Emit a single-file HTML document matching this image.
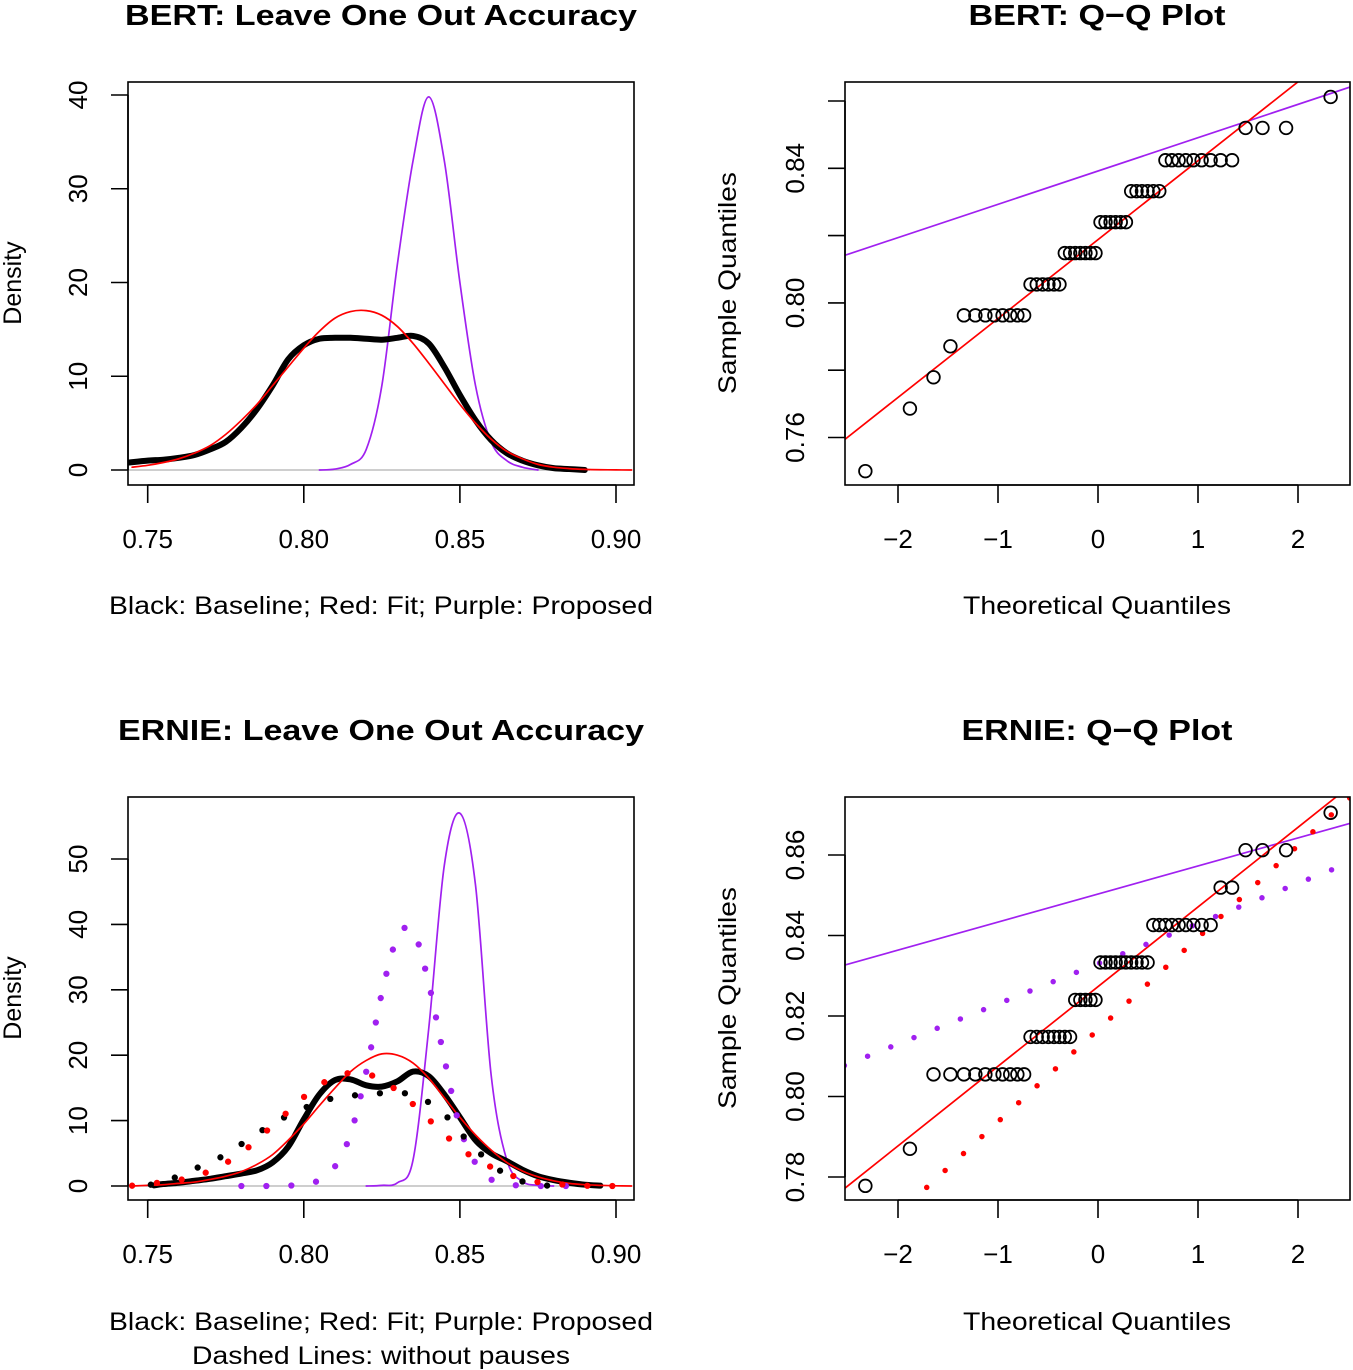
<!DOCTYPE html>
<html><head><meta charset="utf-8"><style>
html,body{margin:0;padding:0;background:#fff;}
svg{display:block;font-family:"Liberation Sans",Arial,sans-serif;}
</style></head>
<body>
<svg id="chart" width="1353" height="1370" viewBox="0 0 1353 1370" xmlns="http://www.w3.org/2000/svg"></svg>
<script>
// ---------- DATA ----------
const gridA = [0.745,0.75,0.755,0.76,0.765,0.77,0.775,0.78,0.785,0.79,0.795,0.80,0.805,0.81,0.815,0.82,0.825,0.83,0.835,0.84,0.845,0.85,0.855,0.86,0.865,0.87,0.875,0.88,0.885,0.89,0.895,0.90,0.905];
const bertBaseX = [0.744,0.75,0.755,0.76,0.765,0.77,0.775,0.78,0.785,0.79,0.795,0.80,0.805,0.81,0.815,0.82,0.825,0.83,0.835,0.84,0.845,0.85,0.855,0.86,0.865,0.87,0.875,0.88,0.885,0.89];
const bertBaseY = [0.8,1.0,1.1,1.3,1.6,2.2,3.0,4.5,6.5,9.0,11.8,13.3,14.0,14.1,14.1,14.0,13.9,14.1,14.3,13.5,11.0,8.0,5.3,3.2,1.8,1.0,0.5,0.2,0.1,0.0];
const bertFitY = [0.3,0.5,0.8,1.2,1.8,2.6,3.8,5.3,7.0,9.0,11.0,13.0,14.8,16.2,16.9,17.0,16.5,15.3,13.5,11.4,9.2,7.0,5.0,3.3,2.0,1.2,0.6,0.3,0.15,0.07,0.03,0.01,0.0];
const bertPropX = [0.805,0.81,0.815,0.82,0.825,0.83,0.835,0.84,0.845,0.85,0.855,0.86,0.865,0.87,0.875];
const bertPropY = [0,0.1,0.6,2.2,9,22,33,39.8,33,20,9,3,1,0.3,0];
const ernieBaseX = [0.752,0.755,0.76,0.765,0.77,0.775,0.78,0.785,0.79,0.795,0.80,0.805,0.81,0.815,0.82,0.825,0.83,0.835,0.84,0.845,0.85,0.855,0.86,0.865,0.87,0.875,0.88,0.885,0.89,0.895];
const ernieBaseY = [0.1,0.3,0.5,0.8,1.1,1.5,1.9,2.4,3.6,6.0,10.2,14.0,16.2,16.3,15.4,15.2,16.0,17.5,16.8,14.0,10.5,7.0,5.0,3.8,2.5,1.5,0.9,0.5,0.2,0.05];
const ernieFitY = [0,0.1,0.2,0.4,0.6,1.0,1.5,2.2,3.3,4.8,7.0,9.5,12.3,15.0,17.5,19.2,20.2,20.0,18.8,16.5,13.5,10.5,7.8,5.5,3.6,2.3,1.4,0.8,0.4,0.2,0.1,0.03,0];
const erniePropX = [0.82,0.825,0.83,0.835,0.84,0.845,0.85,0.855,0.86,0.865,0.87,0.875,0.88];
const erniePropY = [0,0.1,0.5,4,24,49,57,46,17,4,0.7,0.1,0];
const ernieBaseNpX = [0.751,0.755,0.76,0.765,0.77,0.775,0.78,0.785,0.79,0.795,0.80,0.805,0.81,0.815,0.82,0.825,0.83,0.835,0.84,0.845,0.85,0.855,0.86,0.865,0.87,0.875,0.88];
const ernieBaseNpY = [0.2,0.8,1.5,2.6,3.7,4.8,6.4,8.0,9.5,10.8,11.9,12.8,13.5,13.8,14.0,14.2,14.2,14.0,12.8,11.0,8.2,5.7,3.4,1.7,0.7,0.2,0];
const ernieFitNpY = [0.05,0.3,0.6,0.9,1.5,2.3,3.5,5.1,7.0,9.3,11.4,13.6,15.4,16.7,17.3,17.1,16.3,14.5,12.5,10.2,7.9,5.9,4.1,2.9,1.9,1.1,0.6,0.35,0.15,0.05,0.02,0,0];
const erniePropNpX = [0.78,0.785,0.79,0.795,0.80,0.805,0.81,0.815,0.82,0.825,0.83,0.835,0.84,0.845,0.85,0.855,0.86,0.865,0.87,0.875,0.88,0.885];
const erniePropNpY = [0,0,0,0.05,0.3,0.9,3,8,17.5,29.5,38,39,31,19.5,9,3.5,1,0.3,0.05,0,0,0];
const bertLevels = [0.7500,0.7686,0.7779,0.7871,0.7963,0.8055,0.8148,0.8240,0.8332,0.8424,0.8520,0.8612];
const bertCounts = [1,1,1,1,8,6,7,6,6,9,3,1];
const ernieLevels = [0.7778,0.7870,0.8055,0.8148,0.8240,0.8333,0.8426,0.8519,0.8612,0.8705];
const ernieCounts = [1,1,10,8,5,10,9,2,3,1];
const bertFitLine = [0.8188,0.02345];
const bertPropLine = [0.8392,0.0099];
const ernieFitLine = [0.8273,0.01979];
const erniePropLine = [0.8503,0.00697];
const ernieFitNpLine = [0.8166,0.02288];
const erniePropNpLine = [0.8330,0.00998];
const densXTicks = ["0.75","0.80","0.85","0.90"];
const bertDensYTicks = ["0","10","20","30","40"];
const ernieDensYTicks = ["0","10","20","30","40","50"];
const qqXTicks = ["−2","−1","0","1","2"];
const bertQQYTicks = [0.76,0.78,0.80,0.82,0.84,0.86];
const bertQQYLabels = ["0.76","","0.80","","0.84",""];
const ernieQQYTicks = [0.78,0.80,0.82,0.84,0.86];
const ernieQQYLabels = ["0.78","0.80","0.82","0.84","0.86"];

// ---------- helpers ----------
const NS="http://www.w3.org/2000/svg";
const svg=document.getElementById('chart');
function mk(tag,attrs,parent){const e=document.createElementNS(NS,tag);for(const k in attrs)e.setAttribute(k,attrs[k]);(parent||svg).appendChild(e);return e;}
function txt(s,x,y,size,opts,parent){opts=opts||{};const t=mk('text',{x:x,y:y,'font-size':size,'text-anchor':opts.anchor||'middle','font-weight':opts.bold?'bold':'normal',fill:'#000'},parent);if(opts.rot)t.setAttribute('transform','rotate(-90 '+x+' '+y+')');if(opts.len){t.setAttribute('textLength',opts.len);t.setAttribute('lengthAdjust','spacingAndGlyphs');}t.textContent=s;return t;}
function qnorm(p){const a=[-39.69683028665376,220.9460984245205,-275.9285104469687,138.357751867269,-30.66479806614716,2.506628277459239],b=[-54.47609879822406,161.5858368580409,-155.6989798598866,66.80131188771972,-13.28068155288572],c=[-0.007784894002430293,-0.3223964580411365,-2.400758277161838,-2.549732539343734,4.374664141464968,2.938163982698783],d=[0.007784695709041462,0.3224671290700398,2.445134137142996,3.754408661907416];const pl=0.02425;let q,r;if(p<pl){q=Math.sqrt(-2*Math.log(p));return(((((c[0]*q+c[1])*q+c[2])*q+c[3])*q+c[4])*q+c[5])/((((d[0]*q+d[1])*q+d[2])*q+d[3])*q+1);}if(p>1-pl){q=Math.sqrt(-2*Math.log(1-p));return-(((((c[0]*q+c[1])*q+c[2])*q+c[3])*q+c[4])*q+c[5])/((((d[0]*q+d[1])*q+d[2])*q+d[3])*q+1);}q=p-0.5;r=q*q;return(((((a[0]*r+a[1])*r+a[2])*r+a[3])*r+a[4])*r+a[5])*q/(((((b[0]*r+b[1])*r+b[2])*r+b[3])*r+b[4])*r+1);}

function panel(name,box,sx,sy){
  const g=mk('g',{});
  
  
  const id='clip-'+name;
  const cp=mk('clipPath',{id:id},g);mk('rect',{x:box.x0,y:box.y0,width:box.x1-box.x0,height:box.y1-box.y0},cp);
  const plot=mk('g',{'clip-path':'url(#'+id+')'},g);
  
  
  return {g:g,plot:plot,box:box,sx:sx,sy:sy};
}
function lin(d0,d1,r0,r1){return v=>r0+(v-d0)*(r1-r0)/(d1-d0);}
function smoothPath(pts){
  let d='M'+pts[0][0].toFixed(2)+' '+pts[0][1].toFixed(2);
  for(let i=0;i<pts.length-1;i++){
    const p0=pts[Math.max(i-1,0)],p1=pts[i],p2=pts[i+1],p3=pts[Math.min(i+2,pts.length-1)];
    const c1x=p1[0]+(p2[0]-p0[0])/6,c1y=p1[1]+(p2[1]-p0[1])/6;
    const c2x=p2[0]-(p3[0]-p1[0])/6,c2y=p2[1]-(p3[1]-p1[1])/6;
    d+='C'+c1x.toFixed(2)+' '+c1y.toFixed(2)+' '+c2x.toFixed(2)+' '+c2y.toFixed(2)+' '+p2[0].toFixed(2)+' '+p2[1].toFixed(2);
  }
  return d;
}
function curve(P,xs,ys,color,w,name,dotted,dotGap){
  const pts=xs.map((x,i)=>[P.sx(x),P.sy(ys[i])]);
  const a={d:smoothPath(pts),fill:'none',stroke:color,'stroke-width':w,'stroke-linejoin':'round','stroke-linecap':'round'};
  if(dotted)a['stroke-dasharray']='0 '+dotGap;
  const p=mk('path',a,P.plot);
  
  
  return p;
}
function abline(P,line,color,w,name,dotted,dotGap){
  const xa=-3,xb=3;
  const a={x1:P.sx(xa),y1:P.sy(line[0]+line[1]*xa),x2:P.sx(xb),y2:P.sy(line[0]+line[1]*xb),stroke:color,'stroke-width':w,'stroke-linecap':'round'};
  if(dotted)a['stroke-dasharray']='0 '+dotGap;
  const l=mk('line',a,P.plot);
  
  
}
function frame(P,xt,xl,yt,yl){
  const b=P.box;
  const r=mk('rect',{x:b.x0,y:b.y0,width:b.x1-b.x0,height:b.y1-b.y0,fill:'none',stroke:'#000','stroke-width':1.6},P.g);
  
  
  const xa=mk('g',{},P.g);
  
  
  mk('line',{x1:P.sx(xt[0]),x2:P.sx(xt[xt.length-1]),y1:b.y1,y2:b.y1,stroke:'#000','stroke-width':1.6},xa);
  xt.forEach((v,i)=>{const x=P.sx(v);mk('line',{x1:x,x2:x,y1:b.y1,y2:b.y1+18,stroke:'#000','stroke-width':1.6},xa);const t=txt(xl[i],x,b.y1+63,26,{},xa);});
  const ya=mk('g',{},P.g);
  
  
  mk('line',{x1:b.x0,x2:b.x0,y1:P.sy(yt[0]),y2:P.sy(yt[yt.length-1]),stroke:'#000','stroke-width':1.6},ya);
  yt.forEach((v,i)=>{const y=P.sy(v);mk('line',{x1:b.x0-17,x2:b.x0,y1:y,y2:y,stroke:'#000','stroke-width':1.6},ya);if(yl[i]){const t=txt(yl[i],b.x0-41,y,26,{rot:true},ya);}});
}
function qqPoints(P,levels,counts,name){
  const n=counts.reduce((a,b)=>a+b,0);let i=0;
  const g=mk('g',{},P.plot);
  
  
  levels.forEach((lv,k)=>{for(let j=0;j<counts[k];j++){i++;const th=qnorm((i-0.5)/n);const c=mk('circle',{cx:P.sx(th),cy:P.sy(lv),r:6.3,fill:'none',stroke:'#000','stroke-width':1.8},g);}});
}
const PUR='#a020f0', RED='#ff0000';
const dxs=lin(0.75,0.90,147.7,616);

// ---------- Panel 1 ----------
const P1=panel('bert-density-panel',{x0:128,x1:634,y0:82,y1:485},dxs,lin(0,40,470,95));
mk('line',{x1:128,x2:590,y1:P1.sy(0),y2:P1.sy(0),stroke:'#bebebe','stroke-width':1.6},P1.plot);
curve(P1,bertPropX,bertPropY,PUR,1.7,'bert-proposed-density');
curve(P1,bertBaseX,bertBaseY,'#000',6,'bert-baseline-density');
curve(P1,gridA,bertFitY,RED,1.7,'bert-fit-density');
frame(P1,[0.75,0.80,0.85,0.90],densXTicks,[0,10,20,30,40],bertDensYTicks);
let t;
t=txt('BERT: Leave One Out Accuracy',381,25,29,{bold:true,len:512});

t=txt('Black: Baseline; Red: Fit; Purple: Proposed',381,614,25,{len:544});

t=txt('Density',21,283,25,{rot:true});


// ---------- Panel 2 ----------
const qxs=lin(-2,2,898,1298);
const P2=panel('bert-qq-panel',{x0:845,x1:1350,y0:82,y1:485},qxs,lin(0.76,0.84,437.5,168.3));
abline(P2,bertPropLine,PUR,1.7,'bert-proposed-qq-line');
abline(P2,bertFitLine,RED,1.7,'bert-fit-qq-line');
qqPoints(P2,bertLevels,bertCounts,'bert-qq-points');
frame(P2,[-2,-1,0,1,2],qqXTicks,bertQQYTicks,bertQQYLabels);
t=txt('BERT: Q−Q Plot',1097,25,29,{bold:true,len:257});

t=txt('Theoretical Quantiles',1097,614,25,{len:268});

t=txt('Sample Quantiles',736,283,25,{rot:true,len:222});


// ---------- Panel 3 ----------
const P3=panel('ernie-density-panel',{x0:128,x1:634,y0:797,y1:1200},dxs,lin(0,50,1186,859));
mk('line',{x1:128,x2:600,y1:P3.sy(0),y2:P3.sy(0),stroke:'#bebebe','stroke-width':1.6},P3.plot);
curve(P3,erniePropX,erniePropY,PUR,1.7,'ernie-proposed-density');
curve(P3,ernieBaseX,ernieBaseY,'#000',6,'ernie-baseline-density');
curve(P3,gridA,ernieFitY,RED,1.7,'ernie-fit-density');
curve(P3,erniePropNpX,erniePropNpY,PUR,6.3,'ernie-proposed-density-no-pauses',true,25);
curve(P3,ernieBaseNpX,ernieBaseNpY,'#000',6.3,'ernie-baseline-density-no-pauses',true,25);
curve(P3,gridA,ernieFitNpY,RED,6.3,'ernie-fit-density-no-pauses',true,25);
frame(P3,[0.75,0.80,0.85,0.90],densXTicks,[0,10,20,30,40,50],ernieDensYTicks);
t=txt('ERNIE: Leave One Out Accuracy',381,740,29,{bold:true,len:526});

t=txt('Black: Baseline; Red: Fit; Purple: Proposed',381,1330,25,{len:544});

t=txt('Dashed Lines: without pauses',381,1364,25,{len:378});

t=txt('Density',21,998,25,{rot:true});


// ---------- Panel 4 ----------
const P4=panel('ernie-qq-panel',{x0:845,x1:1350,y0:797,y1:1200},qxs,lin(0.78,0.86,1177,855));
abline(P4,erniePropLine,PUR,1.7,'ernie-proposed-qq-line');
abline(P4,ernieFitLine,RED,1.7,'ernie-fit-qq-line');
abline(P4,erniePropNpLine,PUR,5.5,'ernie-proposed-qq-line-no-pauses',true,25);
abline(P4,ernieFitNpLine,RED,5.5,'ernie-fit-qq-line-no-pauses',true,25);
qqPoints(P4,ernieLevels,ernieCounts,'ernie-qq-points');
frame(P4,[-2,-1,0,1,2],qqXTicks,ernieQQYTicks,ernieQQYLabels);
t=txt('ERNIE: Q−Q Plot',1097,740,29,{bold:true,len:271});

t=txt('Theoretical Quantiles',1097,1330,25,{len:268});

t=txt('Sample Quantiles',736,998,25,{rot:true,len:222});

</script>
</body></html>
